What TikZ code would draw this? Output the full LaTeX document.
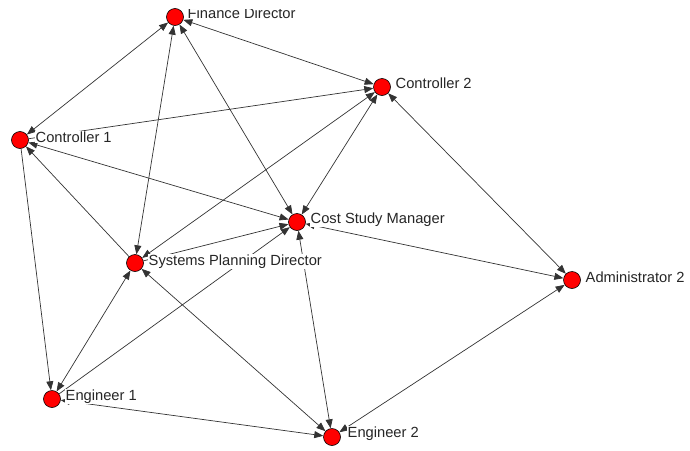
\documentclass[tikz,border=0pt]{standalone}
\usepackage{fontspec}
\setmainfont{Liberation Sans}
\usetikzlibrary{arrows.meta}
\begin{document}
\begin{tikzpicture}[x=1pt,y=-1pt,
  actor/.style={circle,draw=black,fill=red,minimum size=17pt,inner sep=0pt,line width=0.6pt},
  lbl/.style={anchor=base west,fill=white,inner sep=0.5pt,font=\fontsize{14.7}{16}\selectfont,text=black!85},
  tie/.style={draw=black!80,line width=0.7pt},
  one/.style={tie,-{Triangle[length=9pt,width=7pt]}},
  two/.style={tie,{Triangle[length=9pt,width=7pt]}-{Triangle[length=9pt,width=7pt]}}]
\useasboundingbox (0,0) rectangle (690,450);
\node[actor] (FD) at (175,17) {};
\node[actor] (C2) at (382,87) {};
\node[actor] (C1) at (20,140) {};
\node[actor] (CSM) at (297,222) {};
\node[actor] (SPD) at (135,263) {};
\node[actor] (A2) at (572,280) {};
\node[actor] (E1) at (52,399) {};
\node[actor] (E2) at (332,437) {};
\draw[two] (C1) -- (FD);
\draw[two] (SPD) -- (FD);
\draw[two] (FD) -- (CSM);
\draw[two] (FD) -- (C2);
\draw[one] (C1) -- (C2);
\draw[two] (C2) -- (CSM);
\draw[two] (SPD) -- (C2);
\draw[two] (C1) -- (CSM);
\draw[one] (SPD) -- (C1);
\draw[one] (C1) -- (E1);
\draw[two] (E1) -- (SPD);
\draw[one] (E1) -- (CSM);
\draw[one] (SPD) -- (CSM);
\draw[two] (CSM) -- (E2);
\draw[two] (CSM) -- (A2);
\draw[two] (C2) -- (A2);
\draw[two] (E2) -- (A2);
\draw[two] (SPD) -- (E2);
\draw[two] (E1) -- (E2);
\begin{scope}
\clip (0,9) rectangle (690,450);
\node[lbl] (FDl) at (187,18) {Finance Director};
\end{scope}
\node[lbl] (C2l) at (395,88) {Controller 2};
\node[lbl] (C1l) at (35,142) {Controller 1};
\node[lbl] (CSMl) at (310,223) {Cost Study Manager};
\node[lbl] (SPDl) at (148,265) {Systems Planning Director};
\node[lbl] (A2l) at (585,282) {Administrator 2};
\node[lbl] (E1l) at (65,400) {Engineer 1};
\node[lbl] (E2l) at (347,437) {Engineer 2};
\end{tikzpicture}
\end{document}
